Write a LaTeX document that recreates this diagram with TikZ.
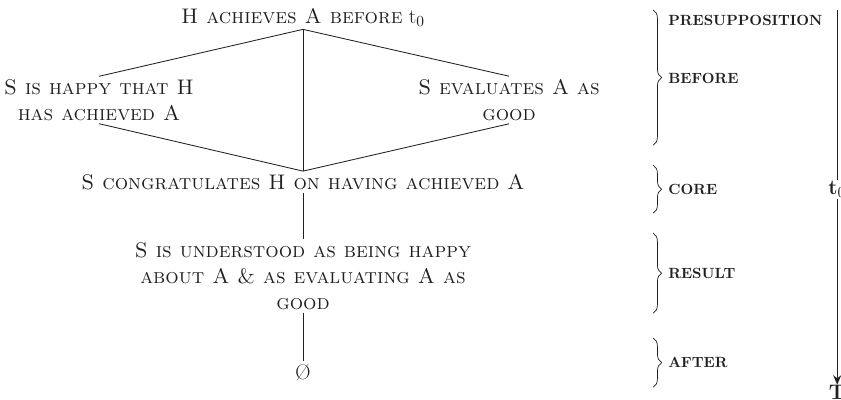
\documentclass[tikz,border=0pt]{standalone}
\usepackage{tikz}
\usetikzlibrary{arrows.meta,positioning,decorations.pathreplacing}
\definecolor{actInk}{HTML}{231F20}
\tikzset{
  act/base/.style={text=actInk, align=center, inner sep=2pt,
    font=\fontsize{15}{18.5}\selectfont},
  act/stage/.style={act/base},
  act/phase/.style={text=actInk, anchor=west, inner sep=0pt,
    font=\fontsize{10.5}{12}\selectfont\bfseries},
  act/link/.style={draw=actInk, line width=0.6pt},
  act/brace/.style={draw=actInk, line width=0.5pt, decorate,
    decoration={brace, amplitude=6pt}},
  act/time/.style={-{Stealth[length=2.4mm,width=2mm]}, draw=actInk,
    line width=0.9pt},
}

\begin{document}
\begin{tikzpicture}
\useasboundingbox (0,0) rectangle (21.025,-10);
% stages of the act
\node[act/stage] (pre) at (7.575,-0.43) {\textsc{H achieves A before} t$_0$};
\node[act/stage] (happy) at (2.475,-2.5) {\textsc{S is happy that H}\\\textsc{has achieved A}};
\node[act/stage] (evaluate) at (12.725,-2.5) {\textsc{S evaluates A as}\\\textsc{good}};
\node[act/stage] (congrats) at (7.575,-4.55) {\textsc{S congratulates H on having achieved A}};
\node[act/stage] (understood) at (7.575,-6.9) {\textsc{S is understood as being happy}\\\textsc{about A \& as evaluating A as}\\\textsc{good}};
\node[act/stage] (empty) at (7.575,-9.3) {\O};
\draw[act/link] (pre.south) -- (happy.north);
\draw[act/link] (pre.south) -- (evaluate.north);
\draw[act/link] (pre.south) -- (congrats.north);
\draw[act/link] (happy.south) -- (congrats.north);
\draw[act/link] (evaluate.south) -- (congrats.north);
\draw[act/link] (congrats.south) -- (understood.north);
\draw[act/link] (understood.south) -- (empty.north);
% phases
\draw[act/brace] (16.33,-0.25) -- (16.33,-3.63);
\draw[act/brace] (16.33,-4.13) -- (16.33,-5.33);
\draw[act/brace] (16.33,-5.83) -- (16.33,-7.83);
\draw[act/brace] (16.33,-8.45) -- (16.33,-9.68);
\node[act/phase] (presup) at (16.7,-0.5) {PRESUPPOSITION};
\node[act/phase] (before) at (16.7,-1.95) {BEFORE};
\node[act/phase] (core) at (16.7,-4.73) {CORE};
\node[act/phase] (result) at (16.7,-6.83) {RESULT};
\node[act/phase] (after) at (16.7,-9.05) {AFTER};
% time axis
\coordinate (tstart) at (20.93,-0.25);
\node[act/base, inner sep=0pt, anchor=north] (tend) at (20.93,-9.62) {\textbf{T}};
\draw[act/time] (tstart) -- (tend.north);
\node[act/base, fill=white, inner sep=1pt, font=\fontsize{15}{18}\selectfont\bfseries] (tzero) at (20.93,-4.73) {t$_0$};
\end{tikzpicture}
\end{document}
